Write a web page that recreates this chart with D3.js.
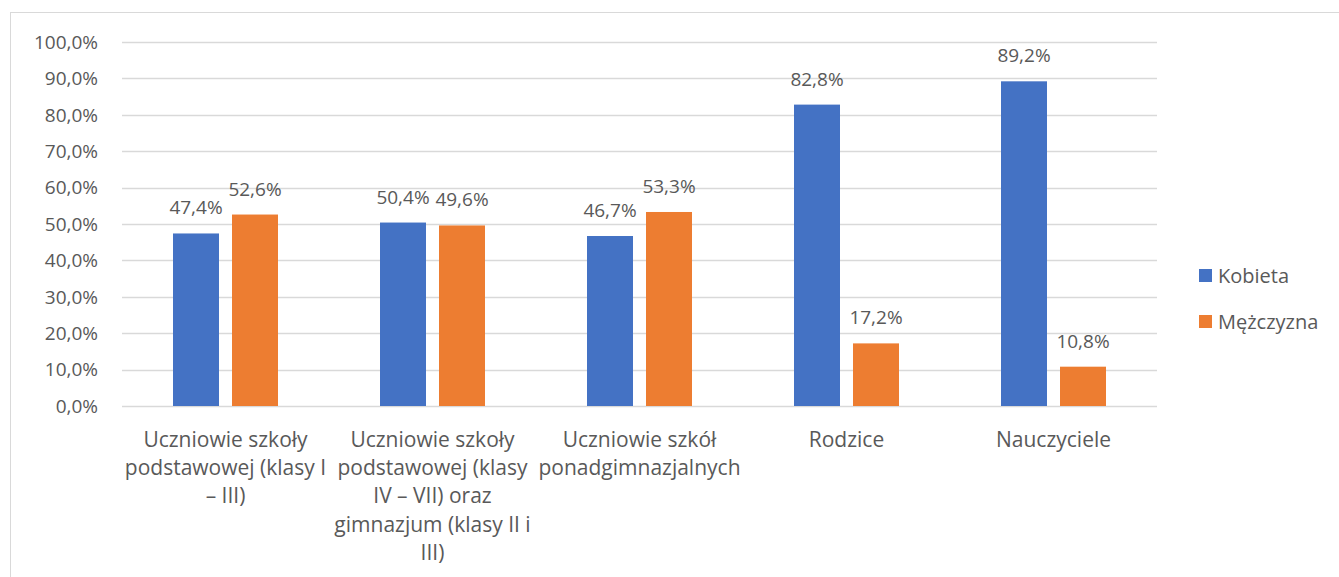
<!DOCTYPE html>
<html>
<head>
<meta charset="utf-8">
<script src="https://cdn.jsdelivr.net/npm/d3@7"></script>
<style>
  body { margin: 0; background: #fff; }
  text { font-family: "Open Sans", sans-serif; fill: #595959; }
</style>
</head>
<body>
<script>
// categories (already split into lines like the original wrapping)
const categories = [
  ["Uczniowie szkoły", "podstawowej (klasy I", "– III)"],
  ["Uczniowie szkoły", "podstawowej (klasy", "IV – VII) oraz", "gimnazjum (klasy II i", "III)"],
  ["Uczniowie szkół", "ponadgimnazjalnych"],
  ["Rodzice"],
  ["Nauczyciele"]
];
const seriesNames = ["Kobieta", "Mężczyzna"];
const kobieta = [47.4, 50.4, 46.7, 82.8, 89.2];
const mezczyzna = [52.6, 49.6, 53.3, 17.2, 10.8];
const yTicks = [0, 10, 20, 30, 40, 50, 60, 70, 80, 90, 100];
const colors = ["#4472C4", "#ED7D31"];

const width = 1339, height = 577;
const svg = d3.select("body").append("svg").attr("width", width).attr("height", height);

// chart border (right and bottom edges run off the picture)
svg.append("rect")
    .attr("x", 10.5).attr("y", 12.5)
    .attr("width", 1340).attr("height", 580)
    .attr("fill", "none").attr("stroke", "#D9D9D9");

const plotL = 122, plotR = 1157, plotT = 42, plotB = 406;

const x = d3.scaleBand().domain(d3.range(categories.length)).range([plotL, plotR]);
const y = d3.scaleLinear().domain([0, 100]).range([plotB, plotT]);
const fmt = v => d3.format(".1f")(v).replace(".", ",") + "%";

// gridlines
svg.selectAll("line.grid")
    .data(yTicks)
    .enter().append("line")
      .attr("class", "grid")
      .attr("x1", plotL).attr("x2", plotR)
      .attr("y1", d => Math.round(y(d)) + 0.5)
      .attr("y2", d => Math.round(y(d)) + 0.5)
      .attr("stroke", "#D9D9D9").attr("stroke-width", 1.5);

// y tick labels
svg.selectAll("text.ytick")
    .data(yTicks)
    .enter().append("text")
      .attr("class", "ytick")
      .attr("x", 98)
      .attr("y", d => y(d))
      .attr("dy", "0.36em")
      .attr("text-anchor", "end")
      .attr("font-size", 19)
      .text(d => fmt(d));

// bars
const barW = 46, barOff = 29.5;
const series = [kobieta, mezczyzna];
series.forEach(function(vals, s) {
  const g = svg.append("g");
  g.selectAll("rect")
      .data(vals)
      .enter().append("rect")
        .attr("x", (d, i) => x(i) + x.bandwidth() / 2 + (s === 0 ? -barOff : barOff) - barW / 2)
        .attr("y", d => y(d))
        .attr("width", barW)
        .attr("height", d => y(0) - y(d))
        .attr("fill", colors[s]);
  g.selectAll("text")
      .data(vals)
      .enter().append("text")
        .attr("x", (d, i) => x(i) + x.bandwidth() / 2 + (s === 0 ? -barOff : barOff))
        .attr("y", d => y(d) - 19)
        .attr("text-anchor", "middle")
        .attr("font-size", 19)
        .text(d => fmt(d));
});

// category labels
const cat = svg.selectAll("text.cat")
    .data(categories)
    .enter().append("text")
      .attr("class", "cat")
      .attr("text-anchor", "middle")
      .attr("font-size", 21);
cat.selectAll("tspan")
    .data((d, i) => d.map(t => ({ t: t, i: i })))
    .enter().append("tspan")
      .attr("x", d => x(d.i) + x.bandwidth() / 2)
      .attr("y", (d, j) => 447 + j * 28.2)
      .text(d => d.t);

// legend
const leg = svg.selectAll("g.legend")
    .data(seriesNames)
    .enter().append("g")
      .attr("class", "legend")
      .attr("transform", (d, i) => "translate(1199," + (269 + i * 46) + ")");
leg.append("rect")
    .attr("width", 13).attr("height", 13)
    .attr("fill", (d, i) => colors[i]);
leg.append("text")
    .attr("x", 19).attr("y", 6.5).attr("dy", "0.36em")
    .attr("font-size", 20)
    .text(d => d);
</script>
</body>
</html>
